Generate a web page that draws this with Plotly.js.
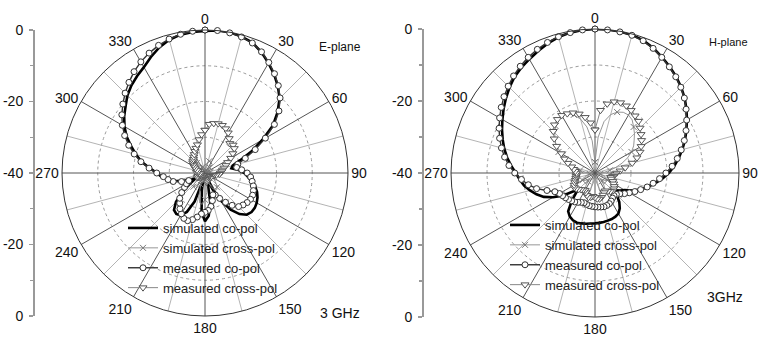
<!DOCTYPE html>
<html>
<head>
<meta charset="utf-8">
<script src="https://cdn.plot.ly/plotly-3.0.1.min.js"></script>
<style>html,body{margin:0;padding:0;background:#fff;}#chart{width:759px;height:339px;}</style>
</head>
<body>
<div id="chart"></div>
<script>
// Angles (degrees, clockwise from top)
const theta = [0,5,10,15,20,25,30,35,40,45,50,55,60,65,70,75,80,85,90,95,100,105,110,115,120,125,130,135,140,145,150,155,160,165,170,175,180,185,190,195,200,205,210,215,220,225,230,235,240,245,250,255,260,265,270,275,280,285,290,295,300,305,310,315,320,325,330,335,340,345,350,355,360];
const angleTicks = [0,30,60,90,120,150,180,210,240,270,300,330];
const angleTickText = ["0","30","60","90","120","150","180","210","240","270","300","330"];
const radialTicks = [-40,-20,0,20,40];
const radialTickText = ["0","-20","-40","-20","0"];
const seriesNames = ["simulated co-pol","simulated cross-pol","measured co-pol","measured cross-pol"];

// E-plane, 3 GHz (dB)
const eSimCo = [-0.3,0,0,-0.5,-1.2,-2.7,-4.5,-6.3,-8.3,-10.5,-13.5,-16.8,-21.5,-25.5,-29.5,-32,-32.5,-30.5,-29,-28,-26.8,-25.5,-24.5,-23.8,-23.3,-23,-23,-23.5,-25,-27.5,-31,-35,-38.5,-37,-31.5,-28,-26.5,-29,-35,-38,-31.5,-28,-26.3,-26,-26.5,-28.5,-31.5,-35,-37,-36,-33.5,-31.5,-29.5,-27.8,-26.5,-24.5,-22,-20,-18,-15.8,-14,-12.4,-11,-9.3,-8,-6.9,-5.8,-4.2,-2.6,-1.4,-0.7,-0.4,-0.3];
const eSimX = [-39.5,-39,-38,-37,-36.5,-36.3,-36.5,-37.2,-38,-38.8,-39.5,-39.8,-39.5,-39,-38.5,-38.3,-38.5,-39,-39.5,-39.8,-39.5,-39,-38.5,-38,-37.5,-37,-36.3,-35.5,-34.8,-34.3,-34.5,-35.5,-37,-38.5,-37,-34.5,-32.5,-31.2,-31.5,-33.5,-36.5,-38.5,-37,-35.5,-35,-35.8,-37.3,-38.8,-39.5,-39.8,-39.5,-39,-38.6,-38.4,-38.5,-38.9,-39.3,-39.6,-39.3,-38.8,-38.2,-37.5,-37,-36.6,-36.4,-36.5,-36.9,-37.5,-38.2,-38.8,-39.3,-39.6,-39.5];
const eMeasCo = [0,0,-0.2,-0.6,-1.3,-2.6,-4.3,-6.1,-8.1,-10.3,-13,-16.3,-20.5,-24.5,-28,-30.5,-31,-29.7,-28.2,-27.2,-26.6,-26,-25.6,-25.3,-25.3,-25.6,-26.1,-26.7,-28.2,-30,-31.8,-33.2,-33.5,-32,-30.5,-29.5,-29,-28.5,-27.5,-26.5,-25.8,-26,-26.8,-27.8,-29,-30,-31.5,-33,-34,-35,-33,-30.8,-29.5,-28.3,-26.5,-24.3,-21.8,-19.5,-17.3,-15.2,-13.3,-11.6,-10,-8.4,-6.9,-5.4,-4.1,-3,-2,-1.2,-0.6,-0.2,0];
const eMeasX = [-28,-26.3,-25.9,-25.7,-25.8,-26.3,-27,-28.2,-29.2,-28.9,-29.3,-30.5,-31.7,-33,-33.8,-34.5,-35,-35.3,-35.7,-36,-36.8,-37.5,-38,-38.5,-38.8,-39,-38.5,-38,-38.5,-39,-39.2,-39,-38.5,-38,-37.5,-37.8,-38.2,-38.6,-39,-38.7,-38.3,-38,-38.4,-38.8,-39,-38.6,-38.2,-37.8,-37.5,-37.8,-38.2,-38.5,-38.8,-38.5,-38,-37.6,-37.8,-38,-37.6,-37,-36.5,-36,-35.5,-35.2,-35,-34.5,-34,-33.3,-32.6,-31.8,-30.5,-29.2,-28];

// H-plane, 3 GHz (dB)
const hSimCo = [0,0,-0.1,-0.3,-0.8,-1.7,-2.8,-3.9,-5,-6.2,-7.5,-9,-10.5,-12,-13.4,-14.9,-16.4,-17.9,-19.5,-21.3,-23.2,-25,-26.5,-28.5,-30.5,-31.5,-32.5,-31.5,-29.5,-28,-27,-26.6,-26.4,-26.3,-26.2,-26.1,-26,-25.9,-25.7,-25.5,-25.3,-25.5,-26,-27,-30,-33,-32,-29,-26.5,-24.3,-22.7,-21.3,-20,-19,-18,-16.6,-15.2,-13.9,-12.7,-11.5,-10.3,-9,-7.7,-6.4,-5.2,-4.3,-3.5,-2.6,-1.7,-0.9,-0.4,-0.1,0];
const hSimX = [-37,-30,-25.5,-23.2,-22,-21.4,-21.4,-22,-23.3,-24.5,-25.8,-26.9,-28.3,-30,-32,-34,-35.8,-37.3,-38.3,-38.8,-38.5,-37.8,-37,-36.3,-36,-36.3,-37,-37.8,-37,-35.5,-34.3,-33.8,-34.2,-35.5,-37.2,-38.5,-39,-38.5,-37.2,-35.5,-34.2,-33.8,-34.3,-35.5,-37,-37.8,-37,-36.3,-36,-36.3,-37,-37.8,-38.5,-38.8,-38.3,-37.3,-35.8,-34,-32,-30,-28.3,-26.8,-25.5,-24.2,-23,-22,-21.5,-21.8,-22.8,-24.5,-27,-31,-37];
const hMeasCo = [0,-0.1,-0.2,-0.4,-0.9,-1.8,-2.9,-4,-5.1,-6.3,-7.6,-9.1,-10.6,-12.1,-13.6,-15.2,-16.8,-18.5,-20.3,-22,-23.6,-25,-26.5,-27.8,-29,-30,-31,-31.6,-31.8,-31.5,-31,-30.6,-30.4,-30.3,-30.4,-30.5,-30.6,-30.7,-30.8,-31,-31.2,-31,-30.6,-30.2,-29.9,-29.6,-29.3,-29,-28.6,-27.7,-25.8,-23.2,-21.2,-19.5,-17.7,-16,-14.5,-13.1,-11.8,-10.6,-9.4,-8.2,-7,-5.9,-4.8,-3.8,-2.9,-2.1,-1.4,-0.8,-0.4,-0.1,0];
const hMeasX = [-28,-22.5,-20.5,-19.5,-19.2,-19.4,-19.9,-20.6,-21.2,-22.3,-23.3,-24.2,-25.2,-26.2,-27.6,-29.3,-31.5,-33,-34,-34.5,-35,-35.5,-35.2,-34.5,-34,-33.5,-33.2,-33,-33.3,-33.8,-34.3,-34,-33.5,-33,-32.7,-32.8,-33.2,-33.5,-33.2,-33,-33.4,-34,-34.5,-34.3,-34,-33.6,-33.2,-33,-33.3,-33.8,-34.2,-34.5,-34.7,-34.8,-34.8,-34.5,-34,-33.3,-32,-30.7,-29.2,-27,-25.2,-23.6,-22.5,-21.8,-21.5,-21.8,-22.2,-23,-24.3,-26,-28];

const FONT = "Liberation Sans, Arial, Helvetica, sans-serif";

function patternTraces(sub, leg, simCo, simX, measCo, measX) {
  return [
    {type:'scatterpolar', subplot:sub, legend:leg, name:seriesNames[0], r:simCo, theta:theta, mode:'lines',
     line:{color:'#000', width:2.6}, hoverinfo:'skip'},
    {type:'scatterpolar', subplot:sub, legend:leg, name:seriesNames[1], r:simX, theta:theta, mode:'lines+markers',
     line:{color:'#8a8a8a', width:0.9}, marker:{symbol:'x-thin-open', size:6, color:'#777', line:{color:'#777', width:1}, maxdisplayed:20}, hoverinfo:'skip'},
    {type:'scatterpolar', subplot:sub, legend:leg, name:seriesNames[2], r:measCo, theta:theta, mode:'lines+markers',
     line:{color:'#333', width:1.4}, marker:{symbol:'circle', size:6, color:'#fff', line:{color:'#333', width:1}}, hoverinfo:'skip'},
    {type:'scatterpolar', subplot:sub, legend:leg, name:seriesNames[3], r:measX, theta:theta, mode:'lines+markers',
     line:{color:'#888', width:1}, marker:{symbol:'triangle-down', size:7, color:'#fff', line:{color:'#555', width:1}}, hoverinfo:'skip'}
  ];
}

const data = [
  {type:'scatterpolar', subplot:'polar', r:[], theta:[], showlegend:false, hoverinfo:'skip'},
  {type:'scatterpolar', subplot:'polar3', r:[], theta:[], showlegend:false, hoverinfo:'skip'},
  {type:'scatter', x:[], y:[], xaxis:'x', yaxis:'y', showlegend:false, hoverinfo:'skip'},
  {type:'scatter', x:[], y:[], xaxis:'x2', yaxis:'y2', showlegend:false, hoverinfo:'skip'},
  ...patternTraces('polar2', 'legend', eSimCo, eSimX, eMeasCo, eMeasX),
  ...patternTraces('polar4', 'legend2', hSimCo, hSimX, hMeasCo, hMeasX)
];

const W = 759, H = 339;
function dom(cx, cy, R) {
  return {x:[(cx-R)/W, (cx+R)/W], y:[1-(cy+R)/H, 1-(cy-R)/H]};
}
const dL = dom(205, 173, 143);
const dR = dom(595, 173, 144);

function basePolar(d) {
  return {
    domain:d, bgcolor:'rgba(0,0,0,0)',
    radialaxis:{range:[-40,0], tickvals:[-30,-20,-10], showticklabels:false, showline:false, ticks:'',
                showgrid:true, gridcolor:'#9a9a9a', griddash:'dot', gridwidth:1},
    angularaxis:{rotation:90, direction:'clockwise', tickmode:'array',
                 tickvals:[15,45,75,105,135,165,195,225,255,285,315,345],
                 showticklabels:false, ticks:'', showline:false, showgrid:true, gridcolor:'#b4b4b4', gridwidth:1}
  };
}
function topPolar(d) {
  return {
    domain:d, bgcolor:'rgba(0,0,0,0)',
    radialaxis:{range:[-40,0], showticklabels:false, showline:false, ticks:'', showgrid:false},
    angularaxis:{rotation:90, direction:'clockwise', tickmode:'array', tickvals:angleTicks, ticktext:angleTickText,
                 ticks:'', showline:true, linecolor:'#333', linewidth:1,
                 showgrid:true, gridcolor:'#555', gridwidth:1,
                 tickfont:{family:FONT, size:14, color:'#111'}}
  };
}
function yAx(d, pos) {
  return {domain:d.y, range:[-40,40], anchor:'free', position:pos, side:'left',
          tickmode:'array', tickvals:radialTicks, ticktext:radialTickText,
          ticks:'outside', ticklen:4, tickcolor:'#999', tickwidth:1.2,
          minor:{tickvals:[-30,-10,10,30], ticks:'outside', ticklen:3, tickcolor:'#999', showgrid:false},
          showline:true, linecolor:'#999', linewidth:1.5, showgrid:false, zeroline:false,
          ticklabelstandoff:3,
          tickfont:{family:FONT, size:14, color:'#111'}, fixedrange:true};
}

const legendStyle = (x, y) => ({x:x, y:y, xanchor:'left', yanchor:'top', bgcolor:'rgba(0,0,0,0)', borderwidth:0,
  font:{family:FONT, size:13, color:'#222'}, tracegroupgap:0, itemwidth:30});

const layout = {
  width:W, height:H, margin:{l:0, r:0, t:0, b:0}, paper_bgcolor:'#fff', plot_bgcolor:'rgba(0,0,0,0)',
  font:{family:FONT, color:'#111'},
  polar:basePolar(dL), polar2:topPolar(dL),
  polar3:basePolar(dR), polar4:topPolar(dR),
  xaxis:{visible:false, domain:[0,1], range:[0,1], fixedrange:true},
  xaxis2:{visible:false, domain:[0,1], range:[0,1], fixedrange:true},
  yaxis:yAx(dL, 33/W),
  yaxis2:yAx(dR, 422/W),
  legend:legendStyle(123/W, 1-213/H),
  legend2:legendStyle(505/W, 1-210/H),
  showlegend:true,
  annotations:[
    {text:'E-plane', xref:'paper', yref:'paper', x:317/W, y:1-47/H, xanchor:'left', yanchor:'middle', showarrow:false, font:{family:FONT, size:12, color:'#111'}},
    {text:'3 GHz', xref:'paper', yref:'paper', x:318/W, y:1-313/H, xanchor:'left', yanchor:'middle', showarrow:false, font:{family:FONT, size:14, color:'#111'}},
    {text:'H-plane', xref:'paper', yref:'paper', x:707/W, y:1-42/H, xanchor:'left', yanchor:'middle', showarrow:false, font:{family:FONT, size:11, color:'#111'}},
    {text:'3GHz', xref:'paper', yref:'paper', x:705/W, y:1-297/H, xanchor:'left', yanchor:'middle', showarrow:false, font:{family:FONT, size:14, color:'#111'}}
  ]
};

Plotly.newPlot('chart', data, layout, {staticPlot:true, displayModeBar:false});
</script>
</body>
</html>
